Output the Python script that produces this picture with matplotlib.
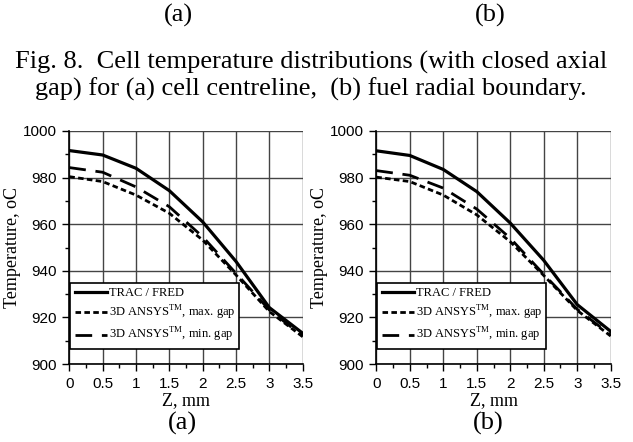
import numpy as np
import matplotlib
matplotlib.use('Agg')
import matplotlib.pyplot as plt
from matplotlib.ticker import MultipleLocator

plt.rcParams['mathtext.fontset'] = 'custom'
plt.rcParams['mathtext.rm'] = 'Liberation Serif'

serif = 'Liberation Serif'
sans = 'Liberation Sans'

# axial position, mm
z = [0, 0.5, 1, 1.5, 2, 2.5, 3, 3.5]

# (a) cell centreline
trac_a = [991.6, 989.7, 984.0, 974.4, 961.0, 944.0, 924.2, 913.2]
max_gap_a = [980.4, 978.3, 972.5, 964.7, 953.2, 938.2, 922.5, 911.7]
min_gap_a = [984.3, 982.3, 976.0, 967.5, 954.6, 938.9, 923.2, 912.0]

# (b) fuel radial boundary
trac_b = [991.5, 989.5, 983.5, 974.0, 960.5, 944.5, 925.5, 914.0]
max_gap_b = [980.2, 978.3, 972.5, 964.0, 952.5, 938.0, 923.0, 912.0]
min_gap_b = [983.0, 981.0, 975.5, 966.5, 954.0, 938.5, 923.5, 912.5]

labels = ['TRAC / FRED',
          r'3D ANSYS$^{\rm TM}$, max. gap',
          r'3D ANSYS$^{\rm TM}$, min. gap']

fig = plt.figure(figsize=(6.33, 4.42), dpi=100)

# panel labels of the previous figure and the caption
fig.text(178/633, 1 - 15/442, '(a)', family=serif, fontsize=19, ha='center', va='center')
fig.text(490/633, 1 - 15/442, '(b)', family=serif, fontsize=19, ha='center', va='center')
fig.text(311/633, 1 - 62/442, 'Fig. 8.  Cell temperature distributions (with closed axial',
         family=serif, fontsize=19, ha='center', va='center')
fig.text(311/633, 1 - 89/442, 'gap) for (a) cell centreline,  (b) fuel radial boundary.',
         family=serif, fontsize=19, ha='center', va='center')

def draw_panel(rect, trac, max_gap, min_gap, tag, tag_x):
    ax = fig.add_axes(rect)
    ax.plot(z, trac, color='black', lw=2.3, ls='-', label=labels[0])
    ax.plot(z, max_gap, color='black', lw=2.0, ls=(0, (2.0, 1.2)), label=labels[1])
    ax.plot(z, min_gap, color='black', lw=2.0, ls=(0, (6, 3.5)), label=labels[2])

    ax.set_xlim(0, 3.5)
    ax.set_ylim(900, 1000)
    ax.xaxis.set_major_locator(MultipleLocator(0.5))
    ax.xaxis.set_minor_locator(MultipleLocator(0.25))
    ax.yaxis.set_major_locator(MultipleLocator(20))
    ax.yaxis.set_minor_locator(MultipleLocator(10))
    ax.set_xticks([0, 0.5, 1, 1.5, 2, 2.5, 3, 3.5])
    ax.set_xticklabels(['0', '0.5', '1', '1.5', '2', '2.5', '3', '3.5'])
    ax.tick_params(which='major', direction='out', length=5, width=1, labelsize=11, pad=4)
    ax.tick_params(which='minor', direction='out', length=3, width=1)
    for lab in ax.get_xticklabels() + ax.get_yticklabels():
        lab.set_family(sans)

    ax.grid(True, which='major', color='#444444', lw=1.0)
    for s in ['top', 'right']:
        ax.spines[s].set_visible(False)
    for s in ['left', 'bottom']:
        ax.spines[s].set_linewidth(1.2)

    ax.set_xlabel('Z, mm', family=serif, fontsize=13, labelpad=1)
    ax.set_ylabel('Temperature, oC', family=serif, fontsize=13, labelpad=1)

    leg = ax.legend(loc='lower left', bbox_to_anchor=(0.005, 0.065), fancybox=False,
                    edgecolor='black', framealpha=1, handlelength=2.6, handletextpad=0.1,
                    borderpad=0.35, labelspacing=0.35, borderaxespad=0,
                    prop={'family': serif, 'size': 9})
    leg.get_frame().set_linewidth(1.2)

    fig.text(tag_x / 633, 1 - 423 / 442, tag, family=serif, fontsize=19,
             ha='center', va='center')
    return ax

draw_panel([69.3/633, 1 - 364/442, 233.4/633, 233/442], trac_a, max_gap_a, min_gap_a, '(a)', 182)
draw_panel([376.3/633, 1 - 364/442, 234.4/633, 233/442], trac_b, max_gap_b, min_gap_b, '(b)', 488)

fig.savefig('out.png', dpi=100)
